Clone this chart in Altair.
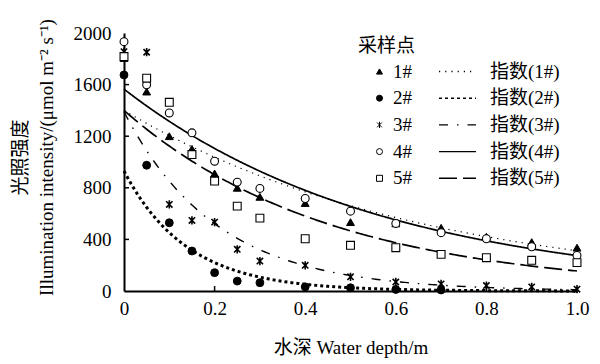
import altair as alt
import pandas as pd

# ---- data ----
depth = [0, 0.05, 0.1, 0.15, 0.2, 0.25, 0.3, 0.4, 0.5, 0.6, 0.7, 0.8, 0.9, 1.0]
site1 = [1806, 1546, 1200, 1102, 911, 800, 730, 682, 534, 524, 490, 421, 379, 336]
site2 = [1675, 975, 529, 310, 142, 77, 64, 32, 25, 12, 8]
site3 = [1855, 1851, 671, 547, 534, 323, 232, 199, 110, 70, 55, 42, 32, 14]
site4 = [1933, 1598, 1380, 1226, 1006, 844, 795, 717, 619, 524, 452, 405, 343, 276]
site5 = [1817, 1650, 1463, 1058, 852, 658, 565, 405, 354, 336, 284, 258, 238, 220]
sites = ["1#", "2#", "3#", "4#", "5#"]
site_stroke = [1.0, 1.0, 1.6, 1.1, 1.1]

# exponential trend lines y = a * exp(-b * depth), parameters
fit_labels = ["指数(1#)", "指数(2#)", "指数(3#)", "指数(4#)", "指数(5#)"]
fit_a = [1400, 930, 1390, 1565, 1400]
fit_b = [1.5, 7.2, 4.9, 1.74, 2.2]
fit_width = [1.2, 3.0, 1.4, 1.7, 1.7]

x_ticks = [0, 0.2, 0.4, 0.6, 0.8, 1.0]
y_ticks = [0, 400, 800, 1200, 1600, 2000]

# ---- tables ----
rows = []
for s, sw, vals in zip(sites, site_stroke, [site1, site2, site3, site4, site5]):
    for d, v in zip(depth, vals):
        rows.append({"site": s, "depth": d, "value": v, "sw": sw})
points_df = pd.DataFrame(rows)
fits_df = pd.DataFrame({"label": fit_labels, "a": fit_a, "b": fit_b, "w": fit_width})
xtick_df = pd.DataFrame({"t": x_ticks[1:-1]})
ytick_df = pd.DataFrame({"t": y_ticks[1:-1]})

FONT = "Liberation Serif, Noto Sans CJK SC"
asterisk = "M-0.8,-0.8L0.8,0.8M-0.8,0.8L0.8,-0.8M0,-1.05L0,1.05"

x_scale = alt.Scale(domain=[0, 1], nice=False, zero=False)
y_scale = alt.Scale(domain=[0, 2000], nice=False)

x_axis = alt.Axis(
    title="水深 Water depth/m", values=x_ticks, grid=False,
    labelExpr="datum.value == 0 ? '0' : format(datum.value, '.1f')",
    labelFont=FONT, titleFont=FONT,
    domainColor="black", domainWidth=2, ticks=False,
    labelPadding=8, titlePadding=20, labelFlush=False,
)
y_axis = alt.Axis(
    title=["光照强度", "Illumination intensity/(μmol m⁻² s⁻¹)"], values=y_ticks, grid=False,
    format="d", labelFont=FONT, titleFont=FONT,
    domainColor="black", domainWidth=2, ticks=False,
    labelPadding=13, titleX=-94, titleY=124, titleLineHeight=26, labelFlush=False,
)

pt_legend = alt.Legend(
    title="采样点", orient="none", legendX=234, legendY=4,
    symbolSize=36, symbolOffset=12, labelOffset=4, rowPadding=6.7,
    titlePadding=6, symbolStrokeColor="black", symbolStrokeWidth=1,
)
ln_legend = alt.Legend(
    title=None, orient="none", legendX=314, legendY=29,
    symbolType="stroke", symbolSize=1369, labelOffset=13, rowPadding=6.7,
    clipHeight=19, symbolStrokeColor="black", symbolStrokeWidth=1.4,
)

points = alt.Chart(points_df).mark_point(
    size=62, opacity=1
).encode(
    x=alt.X("depth:Q", scale=x_scale, axis=x_axis),
    y=alt.Y("value:Q", scale=y_scale, axis=y_axis),
    shape=alt.Shape("site:N", scale=alt.Scale(
        domain=sites, range=["triangle-up", "circle", asterisk, "circle", "square"]), legend=pt_legend),
    fill=alt.Fill("site:N", scale=alt.Scale(
        domain=sites, range=["black", "black", "black", "white", "white"]), legend=pt_legend),
    stroke=alt.Stroke("site:N", scale=alt.Scale(
        domain=sites, range=["black", "black", "black", "black", "black"]), legend=pt_legend),
    strokeWidth=alt.StrokeWidth("sw:Q", scale=None, legend=None),
)

lines = alt.Chart(fits_df).transform_calculate(
    xs="sequence(0, 1.0001, 0.005)"
).transform_flatten(["xs"]).transform_calculate(
    yv="datum.a * exp(-datum.b * datum.xs)"
).mark_line(color="black").encode(
    x=alt.X("xs:Q", scale=x_scale),
    y=alt.Y("yv:Q", scale=y_scale),
    strokeDash=alt.StrokeDash("label:N", scale=alt.Scale(
        domain=fit_labels, range=[[1.2, 5], [3, 3], [9, 9, 1.5, 9], [1, 0], [18, 6]]), legend=ln_legend),
    strokeWidth=alt.StrokeWidth("w:Q", scale=None, legend=None),
)

# inward tick marks (short strokes drawn at the tick values)
xticks = alt.Chart(xtick_df).mark_point(
    shape="M0,0L0,-1", size=100, stroke="black", strokeWidth=1.5, opacity=1
).encode(x=alt.X("t:Q", scale=x_scale), y=alt.value(258))
yticks = alt.Chart(ytick_df).mark_point(
    shape="M0,0L1,0", size=100, stroke="black", strokeWidth=1.5, opacity=1
).encode(y=alt.Y("t:Q", scale=y_scale), x=alt.value(0))

chart = alt.layer(lines, points, xticks, yticks).properties(
    width=453, height=258,
    padding={"left": 124, "top": 33, "right": 23, "bottom": 73},
    autosize=alt.AutoSizeParams(type="none"),
    background="white",
).configure(font=FONT).configure_view(stroke=None).configure_axis(
    labelFont=FONT, titleFont=FONT, labelFontSize=19, titleFontSize=19,
    labelColor="black", titleColor="black", titleFontWeight="normal",
).configure_legend(
    labelFont=FONT, titleFont=FONT, labelFontSize=19, titleFontSize=19,
    labelColor="black", titleColor="black", titleFontWeight="normal", padding=0,
)

chart.save("out.html", embed_options={"renderer": "svg", "actions": False})
